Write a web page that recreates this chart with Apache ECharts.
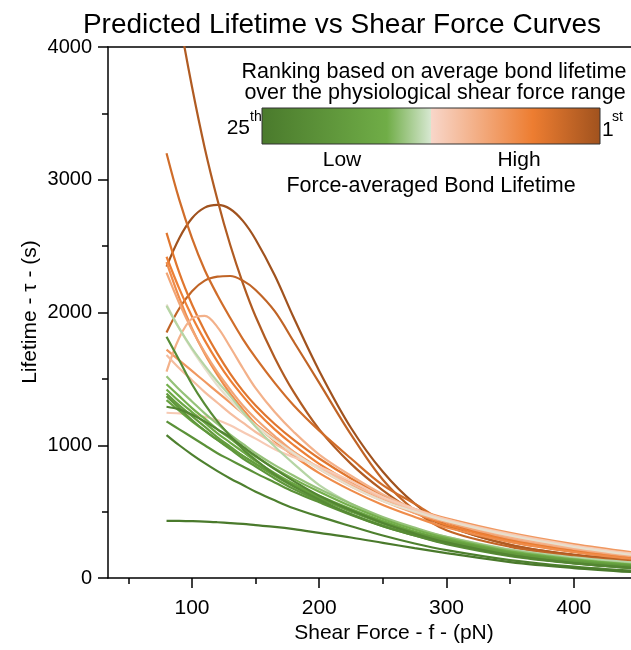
<!DOCTYPE html>
<html><head><meta charset="utf-8">
<script src="https://cdn.jsdelivr.net/npm/echarts@6/dist/echarts.min.js"></script>
<style>html,body{margin:0;padding:0;background:#fff}#c{width:631px;height:650px}</style>
</head><body><div id="c"></div>
<script>
// Shear force sample points (pN)
const forces = [80, 90, 100, 110, 120, 130, 140, 150, 165, 180, 200, 225, 250, 275, 300, 350, 400, 445];
const xTickValues = [100, 200, 300, 400];
const xMinorTickValues = [50, 150, 250, 350];
const yTickValues = [0, 1000, 2000, 3000, 4000];

// Lifetime curves (s)
const p1  = [2345, 2560, 2710, 2790, 2810, 2780, 2690, 2550, 2280, 1960, 1560, 1130, 800, 560, 400, 250, 175, 140];
const crvA = [4800, 4220, 3700, 3240, 2850, 2510, 2220, 1970, 1660, 1400, 1120, 860, 660, 500, 390, 250, 175, 140];
const p2  = [1850, 2030, 2160, 2240, 2270, 2275, 2240, 2170, 2010, 1780, 1470, 1080, 740, 510, 360, 235, 165, 130];
const o1  = [3200, 2850, 2560, 2320, 2130, 1960, 1800, 1660, 1470, 1300, 1110, 900, 700, 560, 420, 290, 200, 150];
const o2  = [2600, 2300, 2060, 1860, 1690, 1540, 1410, 1300, 1160, 1040, 900, 750, 620, 510, 420, 290, 210, 160];
const o3  = [2420, 2180, 1970, 1790, 1630, 1490, 1370, 1260, 1120, 1000, 860, 720, 600, 490, 400, 280, 200, 150];
const o4  = [2380, 2110, 1880, 1690, 1530, 1390, 1270, 1160, 1030, 920, 790, 660, 550, 460, 380, 270, 195, 145];
const o5  = [1720, 1640, 1560, 1480, 1400, 1320, 1240, 1160, 1050, 950, 830, 700, 600, 520, 450, 340, 255, 195];
const pk1 = [2300, 2070, 1870, 1700, 1550, 1420, 1300, 1200, 1070, 950, 820, 690, 580, 490, 420, 300, 220, 165];
const pk2 = [1554, 1810, 1955, 1975, 1890, 1740, 1580, 1430, 1250, 1100, 930, 770, 630, 520, 435, 310, 225, 170];
const pk5 = [1680, 1580, 1490, 1400, 1320, 1240, 1170, 1100, 1010, 930, 830, 710, 600, 510, 440, 320, 240, 180];
const pk4 = [1245, 1240, 1230, 1215, 1190, 1150, 1100, 1050, 970, 910, 838, 730, 610, 520, 440, 330, 245, 185];
const pk3 = [2060, 1880, 1720, 1580, 1450, 1340, 1240, 1150, 1040, 940, 820, 690, 580, 500, 430, 320, 235, 175];
const pg  = [2050, 1880, 1730, 1600, 1480, 1370, 1250, 1140, 990, 860, 700, 560, 450, 370, 310, 215, 155, 118];
const g2  = [1520, 1420, 1330, 1240, 1160, 1080, 1010, 940, 850, 770, 670, 560, 460, 380, 310, 210, 145, 105];
const g10 = [1460, 1370, 1280, 1200, 1120, 1050, 980, 915, 825, 745, 650, 540, 445, 365, 300, 200, 140, 100];
const g3  = [1420, 1330, 1250, 1170, 1090, 1020, 950, 880, 790, 710, 620, 520, 430, 350, 290, 195, 135, 98];
const g11 = [1340, 1260, 1180, 1110, 1040, 980, 920, 860, 775, 700, 610, 510, 420, 345, 285, 190, 130, 95];
const g4  = [1390, 1300, 1220, 1140, 1060, 990, 920, 860, 770, 690, 600, 500, 410, 340, 280, 185, 125, 90];
const g5  = [1370, 1280, 1190, 1110, 1040, 970, 900, 840, 750, 670, 580, 480, 395, 325, 265, 175, 118, 85];
const g7  = [1180, 1120, 1060, 1000, 940, 890, 840, 790, 720, 650, 570, 475, 390, 320, 260, 170, 112, 78];
const g1  = [1818, 1640, 1460, 1310, 1180, 1070, 970, 890, 780, 690, 590, 480, 390, 320, 255, 165, 110, 75];
const g6  = [1290, 1270, 1230, 1180, 1120, 1060, 990, 920, 820, 730, 620, 510, 415, 335, 268, 172, 112, 76];
const g8  = [1077, 1000, 930, 865, 805, 750, 700, 650, 585, 525, 462, 390, 320, 260, 210, 135, 85, 55];
const g9  = [431, 430, 428, 425, 420, 414, 407, 398, 385, 368, 340, 305, 265, 225, 188, 120, 75, 45];

const curveList = [p1, crvA, p2, o1, o2, o3, o4, o5, pk1, pk2, pk5, pk4, pk3, pg, g2, g10, g3, g11, g4, g5, g7, g1, g6, g8, g9];
// rank 1 = highest force-averaged lifetime
const ranks = [1, 2, 3, 4, 5, 6, 7, 8, 9, 10, 11, 12, 13, 14, 15, 16, 17, 18, 19, 20, 21, 22, 23, 24, 25];

// Colour scale (low -> high)
const stops = [[0, '#4a7a2c'], [0.37, '#70ad47'], [0.499, '#d6e7d0'], [0.501, '#f8d6c9'], [0.8, '#ed7d31'], [1, '#a0521e']];
function hex2rgb(h){return [parseInt(h.substr(1,2),16),parseInt(h.substr(3,2),16),parseInt(h.substr(5,2),16)];}
function colorAt(t){
  for (let i=0;i<stops.length-1;i++){
    const a=stops[i], b=stops[i+1];
    if (t>=a[0] && t<=b[0]){
      const f=(t-a[0])/(b[0]-a[0]||1), ca=hex2rgb(a[1]), cb=hex2rgb(b[1]);
      return 'rgb('+ca.map((v,k)=>Math.round(v+(cb[k]-v)*f)).join(',')+')';
    }
  }
  return stops[stops.length-1][1];
}
const FF = '"Liberation Sans", Arial, Helvetica, sans-serif';
const chart = echarts.init(document.getElementById('c'), null, {renderer:'canvas'});
const series = curveList.map((vals, i) => ({
  type:'line', xAxisIndex:0, yAxisIndex:0, showSymbol:false, smooth:0.35, silent:true,
  data: forces.map((f,k)=>[f, vals[k]]),
  lineStyle:{width:2.2, color: colorAt((25-ranks[i])/24)}, z: 2
}));
const grad = new echarts.graphic.LinearGradient(0,0,1,0, stops.map(s=>({offset:s[0], color:s[1]})));
const txt = (x,y,text,size,align,rot) => ({type:'text', x:x, y:y, rotation:rot||0, silent:true, style:{text:text, fontSize:size, fontFamily:FF, fill:'#000', align:align||'center', verticalAlign:'middle', textAlign:align||'center', textVerticalAlign:'middle'}});
chart.setOption({
  animation:false,
  grid:{left:108, top:47, right:0, bottom:72, containLabel:false},
  xAxis:[
    {type:'value', min:34, max:445, position:'bottom',
     axisLine:{onZero:false, lineStyle:{color:'#000', width:1.5}},
     axisTick:{length:10, customValues:xTickValues, lineStyle:{color:'#000', width:1.5}},
     axisLabel:{customValues:xTickValues, margin:20, fontSize:21, color:'#000', fontFamily:FF},
     splitLine:{show:false}},
    {type:'value', min:34, max:445, position:'bottom',
     axisLine:{show:false, onZero:false},
     axisTick:{length:6, customValues:xMinorTickValues, lineStyle:{color:'#000', width:1.5}},
     axisLabel:{show:false}, splitLine:{show:false}},
    {type:'value', min:34, max:445, position:'top',
     axisLine:{onZero:false, lineStyle:{color:'#000', width:1.5}},
     axisTick:{show:false}, axisLabel:{show:false}, splitLine:{show:false}}
  ],
  yAxis:{type:'value', min:0, max:4000, interval:1000,
     axisLine:{show:true, onZero:false, lineStyle:{color:'#000', width:1.5}},
     axisTick:{show:true, length:10, lineStyle:{color:'#000', width:1.5}},
     minorTick:{show:true, splitNumber:2, length:6, lineStyle:{color:'#000', width:1.5}},
     axisLabel:{margin:16, fontSize:20, color:'#000', fontFamily:FF, formatter:(v)=>String(v)},
     splitLine:{show:false}},
  series: series,
  graphic:[
    txt(342, 25, 'Predicted Lifetime vs Shear Force Curves', 28),
    txt(394, 633, 'Shear Force - f - (pN)', 21),
    txt(30, 312, 'Lifetime - τ - (s)', 21, 'center', Math.PI/2),
    txt(434, 72, 'Ranking based on average bond lifetime', 21.5),
    txt(435, 93, 'over the physiological shear force range', 21.5),
    {type:'rect', silent:true, z:10, shape:{x:262, y:108, width:338, height:36}, style:{fill:grad, stroke:'#333', lineWidth:1}},
    txt(250, 128, '25', 21, 'right'),
    txt(250, 117, 'th', 14, 'left'),
    txt(602, 130, '1', 21, 'left'),
    txt(612, 117, 'st', 14, 'left'),
    txt(342, 160, 'Low', 21),
    txt(519, 160, 'High', 21),
    txt(431, 186, 'Force-averaged Bond Lifetime', 21.5)
  ]
});
</script></body></html>
